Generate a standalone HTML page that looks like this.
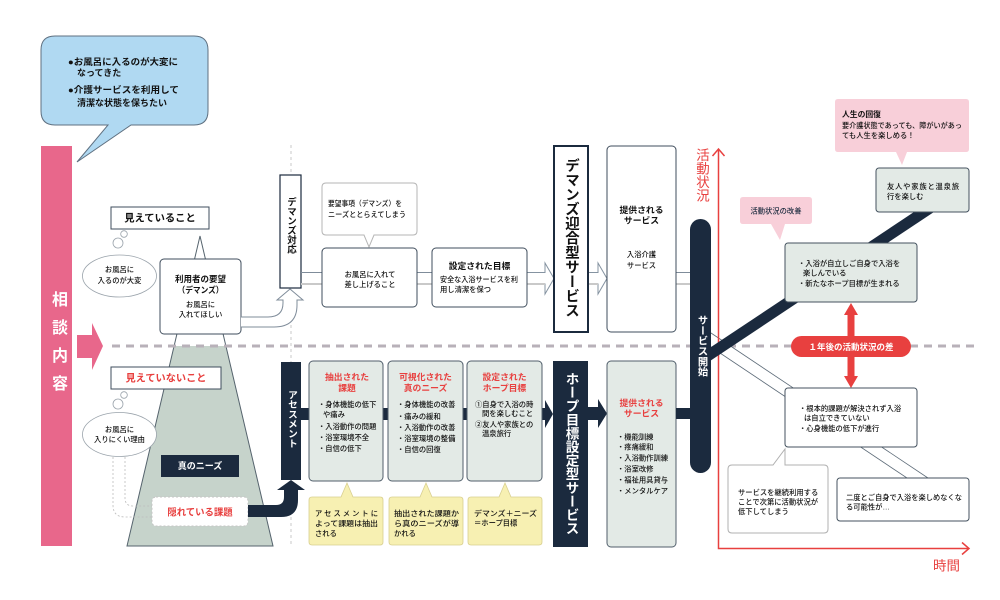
<!DOCTYPE html>
<html><head><meta charset="utf-8">
<style>
html,body{margin:0;padding:0;background:#fff;}
#c{position:relative;width:1000px;height:600px;overflow:hidden;background:#fff;font-family:"Liberation Sans","Noto Sans CJK JP",sans-serif;}
svg{position:absolute;left:0;top:0;}
svg text{font-family:"Liberation Sans","Noto Sans CJK JP",sans-serif;font-size:7.3px;fill:#111;font-weight:500;}
svg text.b{font-weight:bold;}
svg text.m{text-anchor:middle;}
svg text.r{fill:#e8403f;}
svg text.w{fill:#fff;}
.v{position:absolute;writing-mode:vertical-rl;font-weight:bold;white-space:nowrap;font-family:"Liberation Sans","Noto Sans CJK JP",sans-serif;}
</style></head><body><div id="c">
<svg width="1000" height="600" viewBox="0 0 1000 600">
<line x1="291" y1="145" x2="291" y2="547" stroke="#c8c8c8" stroke-width="1" stroke-dasharray="3 3"/>

<path d="M55,36 H194 Q208,36 208,50 V111 Q208,125 194,125 H131 L77,162 L108,125 H55 Q41,125 41,111 V50 Q41,36 55,36 Z" fill="#b0d9f2" stroke="#5f7080" stroke-width="1"/>
<text class="b" x="68" y="65" style="font-size:9px" textLength="110" lengthAdjust="spacingAndGlyphs">●お風呂に入るのが大変に</text>
<text class="b" x="77" y="76" style="font-size:9px">なってきた</text>
<text class="b" x="68" y="93" style="font-size:9px" textLength="111" lengthAdjust="spacingAndGlyphs">●介護サービスを利用して</text>
<text class="b" x="77" y="106" style="font-size:9px">清潔な状態を保ちたい</text>

<rect x="41" y="146" width="31" height="400" fill="#e8678b"/>
<polygon points="77,335 92,335 92,323 103,346 92,370 92,358 77,358" fill="#e8678b"/>

<polygon points="200,236 127,546 273,546" fill="#fff"/>
<polygon points="174.1,346 225.9,346 273,546 127,546" fill="#c6d3cb"/>
<polygon points="200,236 127,546 273,546" fill="none" stroke="#55636d" stroke-width="1"/>

<line x1="112" y1="346" x2="975" y2="346" stroke="#b8b1b9" stroke-width="3" stroke-dasharray="8 6"/>

<rect x="111" y="207" width="98" height="22" fill="#fff" stroke="#3f4d5c" stroke-width="1"/>
<text class="b m" x="160" y="221.7" style="font-size:10.3px">見えていること</text>
<circle cx="124" cy="234" r="3.3" fill="#fff" stroke="#9aa3ab" stroke-width="0.8"/>
<circle cx="118" cy="243" r="5" fill="#fff" stroke="#9aa3ab" stroke-width="0.8"/>
<ellipse cx="119.5" cy="276" rx="37" ry="21" fill="#fff" stroke="#9aa3ab" stroke-width="0.8"/>
<text class="m" x="119.5" y="272">お風呂に</text>
<text class="m" x="119.5" y="283">入るのが大変</text>

<rect x="160" y="259" width="81" height="75" rx="4" fill="#fff" stroke="#3f4d5c" stroke-width="1"/>
<text class="b m" x="200.5" y="282" style="font-size:8.5px">利用者の要望</text>
<text class="b m" x="200.5" y="293" style="font-size:8.5px" textLength="46" lengthAdjust="spacingAndGlyphs">（デマンズ）</text>
<text class="m" x="200.5" y="307">お風呂に</text>
<text class="m" x="200.5" y="317">入れてほしい</text>

<path d="M241,317 H268 Q283,317 283,303 V300 H277 L290,289 L303,300 H297 V305 Q297,327 274,327 H241" fill="#fff" stroke="#7f8c9a" stroke-width="1"/>

<rect x="280" y="175" width="21" height="113" fill="#fff" stroke="#1b2a3e" stroke-width="1.2"/>

<line x1="301" y1="272.5" x2="322" y2="272.5" stroke="#7f8c9a" stroke-width="1"/>
<line x1="301" y1="284" x2="322" y2="284" stroke="#c9c9c9" stroke-width="2"/>
<line x1="417" y1="272.5" x2="432" y2="272.5" stroke="#7f8c9a" stroke-width="1"/>
<line x1="417" y1="284" x2="432" y2="284" stroke="#c9c9c9" stroke-width="2"/>
<polygon points="527,272.5 545,272.5 545,263 554,278.5 545,294 545,284 527,284" fill="#fff" stroke="#8593a1" stroke-width="1"/>
<line x1="527" y1="284" x2="545" y2="284" stroke="#c9c9c9" stroke-width="2"/>
<polygon points="588,272.5 598,272.5 598,263 607,278.5 598,294 598,284 588,284" fill="#fff" stroke="#8593a1" stroke-width="1"/>
<line x1="588" y1="284" x2="598" y2="284" stroke="#c9c9c9" stroke-width="2"/>
<line x1="676" y1="272.5" x2="690" y2="272.5" stroke="#7f8c9a" stroke-width="1"/>
<line x1="676" y1="284" x2="690" y2="284" stroke="#c9c9c9" stroke-width="2"/>

<path d="M326,183 H413 Q417,183 417,187 V231 Q417,235 413,235 H374 L369,247 L364,235 H326 Q322,235 322,231 V187 Q322,183 326,183 Z" fill="#fff" stroke="#b5b5b5" stroke-width="1"/>
<text x="328" y="206" textLength="74" lengthAdjust="spacingAndGlyphs">要望事項（デマンズ）を</text>
<text x="328" y="217" textLength="78" lengthAdjust="spacingAndGlyphs">ニーズととらえてしまう</text>

<rect x="322" y="248" width="95" height="59" rx="4" fill="#fff" stroke="#3f4d5c" stroke-width="1"/>
<text class="m" x="370" y="277">お風呂に入れて</text>
<text class="m" x="370" y="287">差し上げること</text>
<rect x="432" y="248" width="95" height="59" rx="4" fill="#fff" stroke="#3f4d5c" stroke-width="1"/>
<text class="b m" x="479.5" y="269" style="font-size:8.8px">設定された目標</text>
<text x="440" y="282" textLength="78" lengthAdjust="spacingAndGlyphs">安全な入浴サービスを利</text>
<text x="440" y="292">用し清潔を保つ</text>

<rect x="554" y="146" width="34" height="186" fill="#fff" stroke="#1b2a3e" stroke-width="2"/>
<rect x="607" y="146" width="69" height="186" rx="4" fill="#fff" stroke="#3f4d5c" stroke-width="1"/>
<text class="b m" x="641.5" y="213" style="font-size:8.8px">提供される</text>
<text class="b m" x="641.5" y="223.5" style="font-size:8.8px">サービス</text>
<text class="m" x="641.5" y="257">入浴介護</text>
<text class="m" x="641.5" y="268">サービス</text>

<rect x="111" y="367" width="110" height="22" fill="#fff" stroke="#3f4d5c" stroke-width="1"/>
<text class="b m r" x="166" y="381.7" style="font-size:10.2px">見えていないこと</text>
<circle cx="124" cy="395" r="3.3" fill="#fff" stroke="#9aa3ab" stroke-width="0.8"/>
<circle cx="118" cy="404" r="5" fill="#fff" stroke="#9aa3ab" stroke-width="0.8"/>
<ellipse cx="119.5" cy="434.5" rx="37" ry="22" fill="#fff" stroke="#9aa3ab" stroke-width="0.8"/>
<text class="m" x="119.5" y="432">お風呂に</text>
<text class="m" x="119.5" y="442">入りにくい理由</text>

<path d="M113,457 V505 Q113,517 125,517 H153" fill="none" stroke="#bdbdbd" stroke-width="0.8" stroke-dasharray="2 2"/>
<path d="M125,457 V498 Q125,506 133,506 H153" fill="none" stroke="#bdbdbd" stroke-width="0.8" stroke-dasharray="2 2"/>

<rect x="161" y="455" width="78" height="22" fill="#1b2a3e"/>
<text class="b m w" x="200" y="469.2" style="font-size:9px">真のニーズ</text>
<rect x="152" y="497" width="96" height="29" rx="4" fill="#fff" stroke="#c5c5c5" stroke-width="1" stroke-dasharray="2 2"/>
<text class="b m r" x="200" y="515.4" style="font-size:9.4px">隠れている課題</text>

<path d="M248,505 H276 Q284,505 284,497 V490 H277 L291,480 L305,490 H298 V500 Q298,517 281,517 H248 Z" fill="#1b2a3e"/>

<rect x="281" y="362" width="20" height="118" fill="#1b2a3e"/>

<rect x="301" y="408" width="8" height="12" fill="#1b2a3e"/>
<rect x="383" y="408" width="5" height="12" fill="#1b2a3e"/>
<rect x="463" y="408" width="4" height="12" fill="#1b2a3e"/>
<polygon points="542,408 545,408 545,400 553,414 545,428 545,420 542,420" fill="#1b2a3e"/>

<rect x="309" y="361" width="74" height="120" rx="4" fill="#e3eae6" stroke="#505e6b" stroke-width="1"/>
<text class="b m r" x="347" y="380" style="font-size:8.8px">抽出された</text>
<text class="b m r" x="347" y="391" style="font-size:8.8px">課題</text>
<text x="318" y="407">・身体機能の低下</text>
<text x="323" y="417">や痛み</text>
<text x="318" y="429">・入浴動作の問題</text>
<text x="318" y="440">・浴室環境不全</text>
<text x="318" y="451">・自信の低下</text>

<rect x="388" y="361" width="75" height="120" rx="4" fill="#e3eae6" stroke="#505e6b" stroke-width="1"/>
<text class="b m r" x="425.5" y="380" style="font-size:8.8px">可視化された</text>
<text class="b m r" x="425.5" y="391" style="font-size:8.8px">真のニーズ</text>
<text x="397" y="407">・身体機能の改善</text>
<text x="397" y="419">・痛みの緩和</text>
<text x="397" y="430">・入浴動作の改善</text>
<text x="397" y="441">・浴室環境の整備</text>
<text x="397" y="452">・自信の回復</text>

<rect x="467" y="361" width="75" height="120" rx="4" fill="#e3eae6" stroke="#505e6b" stroke-width="1"/>
<text class="b m r" x="504.5" y="380" style="font-size:8.8px">設定された</text>
<text class="b m r" x="504.5" y="391" style="font-size:8.8px">ホープ目標</text>
<text x="475" y="407">①自身で入浴の時</text>
<text x="482" y="416">間を楽しむこと</text>
<text x="475" y="427">②友人や家族との</text>
<text x="482" y="436">温泉旅行</text>

<path d="M312,497 H341 L347,483 L353,497 H380 Q383,497 383,500 V542 Q383,545 380,545 H312 Q309,545 309,542 V500 Q309,497 312,497 Z" fill="#f7f0b2" stroke="#d8cf90" stroke-width="0.8"/>
<text x="315" y="516" textLength="63" lengthAdjust="spacing">アセスメントに</text>
<text x="315" y="526" textLength="63" lengthAdjust="spacingAndGlyphs">よって課題は抽出</text>
<text x="315" y="536">される</text>
<path d="M392,497 H420 L426,483 L432,497 H460 Q463,497 463,500 V542 Q463,545 460,545 H392 Q389,545 389,542 V500 Q389,497 392,497 Z" fill="#f7f0b2" stroke="#d8cf90" stroke-width="0.8"/>
<text x="394" y="516" textLength="65" lengthAdjust="spacingAndGlyphs">抽出された課題か</text>
<text x="394" y="526" textLength="65" lengthAdjust="spacingAndGlyphs">ら真のニーズが導</text>
<text x="394" y="536">かれる</text>
<path d="M471,497 H499 L505,483 L511,497 H539 Q542,497 542,500 V542 Q542,545 539,545 H471 Q468,545 468,542 V500 Q468,497 471,497 Z" fill="#f7f0b2" stroke="#d8cf90" stroke-width="0.8"/>
<text x="474" y="516" textLength="63" lengthAdjust="spacingAndGlyphs">デマンズ＋ニーズ</text>
<text x="474" y="525.5">＝ホープ目標</text>

<rect x="553" y="361" width="35" height="186" fill="#1b2a3e"/>
<polygon points="588,407 598,407 598,399 607,413.5 598,428 598,420 588,420" fill="#1b2a3e"/>
<rect x="607" y="361" width="69" height="186" rx="4" fill="#e3eae6" stroke="#505e6b" stroke-width="1"/>
<text class="b m r" x="641.5" y="406" style="font-size:8.8px">提供される</text>
<text class="b m r" x="641.5" y="416.5" style="font-size:8.8px">サービス</text>
<text x="617" y="439.7">・機能訓練</text>
<text x="617" y="449.7">・疼痛緩和</text>
<text x="617" y="460.7">・入浴動作訓練</text>
<text x="617" y="471.7">・浴室改修</text>
<text x="617" y="482.7">・福祉用具貸与</text>
<text x="617" y="493.7">・メンタルケア</text>
<rect x="676" y="408" width="15" height="11" fill="#1b2a3e"/>

<polygon points="705,329 931,480 910,480 705,343" fill="#fff" stroke="#5d6b78" stroke-width="0.8"/>

<polyline points="718.5,149 718.5,548.5 969,548.5" fill="none" stroke="#e8403f" stroke-width="1.5"/>
<polyline points="712.5,156 718.5,149 724.5,156" fill="none" stroke="#e8403f" stroke-width="1.5"/>
<polyline points="962,542.5 969,548.5 962,554.5" fill="none" stroke="#e8403f" stroke-width="1.5"/>
<text x="933" y="570.5" style="font-size:13.5px;fill:#e8403f;font-weight:normal">時間</text>

<line x1="700" y1="361" x2="945" y2="198" stroke="#1b2a3e" stroke-width="11"/>
<rect x="690" y="219" width="21" height="254" rx="10.5" fill="#1b2a3e"/>

<path d="M743,197 H809 Q812,197 812,200 V221 Q812,224 809,224 H785 L780,240 L771,224 H743 Q740,224 740,221 V200 Q740,197 743,197 Z" fill="#f8cfd9"/>
<text class="m" x="776" y="213.7" style="fill:#1b2a3e">活動状況の改善</text>
<path d="M838,99 H966 Q969,99 969,102 V149 Q969,152 966,152 H907 L902,165 L896,152 H838 Q835,152 835,149 V102 Q835,99 838,99 Z" fill="#f8cfd9"/>
<text class="b" x="842" y="117" style="font-size:7.8px">人生の回復</text>
<text x="842" y="128" textLength="120" lengthAdjust="spacingAndGlyphs">要介護状態であっても、障がいがあっ</text>
<text x="842" y="138">ても人生を楽しめる！</text>

<rect x="876" y="168" width="93" height="44" rx="3" fill="#e3eae6" stroke="#44525f" stroke-width="1"/>
<text x="887" y="189" textLength="72" lengthAdjust="spacing">友人や家族と温泉旅</text>
<text x="887" y="199">行を楽しむ</text>

<rect x="785" y="243" width="132" height="59" rx="3" fill="#e3eae6" stroke="#44525f" stroke-width="1"/>
<text x="798" y="266">・入浴が自立しご自身で入浴を</text>
<text x="803" y="275.5">楽しんでいる</text>
<text x="798" y="286">・新たなホープ目標が生まれる</text>

<polygon points="851,303 858,315 854.5,315 854.5,376 858,376 851,388 844,376 847.5,376 847.5,315 844,315" fill="#e8403f"/>
<rect x="791" y="336" width="120" height="21" rx="10.5" fill="#e8403f"/>
<text class="b m w" x="851" y="349.8" style="font-size:8.5px">１年後の活動状況の差</text>

<rect x="785" y="388" width="132" height="59" rx="3" fill="#fff" stroke="#44525f" stroke-width="1"/>
<text x="799" y="411">・根本的課題が解決されず入浴</text>
<text x="804" y="420.5">は自立できていない</text>
<text x="799" y="431">・心身機能の低下が進行</text>

<path d="M732,465 H773 L785,449 V465 H824 Q828,465 828,469 V529 Q828,533 824,533 H732 Q728,533 728,529 V469 Q728,465 732,465 Z" fill="#fff" stroke="#b0b0b0" stroke-width="1"/>
<text x="738" y="495">サービスを継続利用する</text>
<text x="738" y="504.5">ことで次第に活動状況が</text>
<text x="738" y="514">低下してしまう</text>

<rect x="837" y="478" width="132" height="43" rx="3" fill="#fff" stroke="#44525f" stroke-width="1"/>
<text x="846" y="500" textLength="116" lengthAdjust="spacingAndGlyphs">二度とご自身で入浴を楽しめなくな</text>
<text x="846" y="509.5">る可能性が…</text>
</svg>

<div class="v" style="left:47px;top:291px;width:20px;line-height:20px;font-size:16px;letter-spacing:12px;color:#fff;">相談内容</div>
<div class="v" style="left:280px;top:197px;width:21px;line-height:21px;font-size:9.5px;color:#111;">デマンズ対応</div>
<div class="v" style="left:281px;top:390px;width:20px;line-height:20px;font-size:9.7px;color:#fff;">アセスメント</div>
<div class="v" style="left:561px;top:158px;width:20px;line-height:20px;font-size:14.5px;color:#111;">デマンズ迎合型サービス</div>
<div class="v" style="left:560.5px;top:372px;width:20px;line-height:20px;font-size:13.6px;color:#fff;">ホープ目標設定型サービス</div>
<div class="v" style="left:690.5px;top:315px;width:20px;line-height:20px;font-size:10.3px;color:#fff;">サービス開始</div>
<div class="v" style="left:691px;top:148px;width:20px;line-height:20px;font-size:13.5px;color:#e8403f;font-weight:normal;">活動状況</div>
</div></body></html>
